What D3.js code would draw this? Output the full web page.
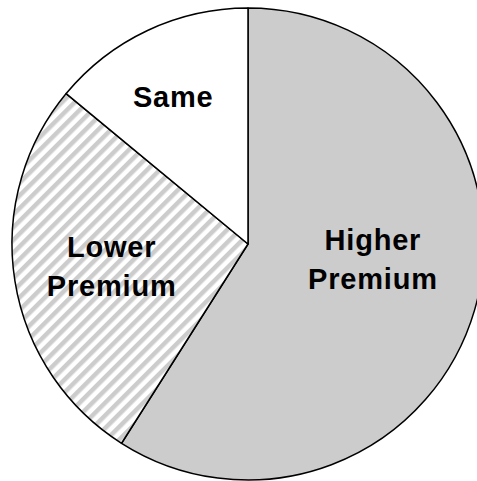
<!DOCTYPE html>
<html>
<head>
<meta charset="utf-8">
<script src="https://cdn.jsdelivr.net/npm/d3@7"></script>
<style>
  html, body { margin: 0; padding: 0; background: #fff; }
  svg { display: block; }
</style>
</head>
<body>
<script>
const categories = ["Higher Premium", "Lower Premium", "Same"];
const values = [59, 27, 14];
const labelLines = [["Higher", "Premium"], ["Lower", "Premium"], ["Same"]];

const W = 477, H = 481;
const cx = 248, cy = 244, R = 236;

const svg = d3.select("body").append("svg").attr("width", W).attr("height", H);

const defs = svg.append("defs");
const pat = defs.append("pattern")
  .attr("id", "stripes")
  .attr("patternUnits", "userSpaceOnUse")
  .attr("width", 9).attr("height", 9)
  .attr("patternTransform", "rotate(45)");
pat.append("rect").attr("width", 9).attr("height", 9).attr("fill", "#fff");
pat.append("rect").attr("width", 4.5).attr("height", 9).attr("fill", "#cccccc");

const fills = d3.scaleOrdinal().domain(categories)
  .range(["#cccccc", "url(#stripes)", "#ffffff"]);

const pie = d3.pie().sort(null).value(d => d.value).startAngle(0).endAngle(2 * Math.PI);
const data = categories.map((c, i) => ({ name: c, value: values[i], lines: labelLines[i] }));
const arcs = pie(data);

const arc = d3.arc().innerRadius(0).outerRadius(R);
const g = svg.append("g").attr("transform", `translate(${cx},${cy})`);

g.selectAll("path.slice").data(arcs).enter().append("path")
  .attr("class", "slice")
  .attr("d", arc)
  .attr("fill", d => fills(d.data.name))
  .attr("stroke", "#000")
  .attr("stroke-width", 1.5)
  .attr("stroke-linejoin", "round");

// label radii as fraction of R, and angular nudges (radians)
const labelR = d3.scaleOrdinal().domain(categories).range([0.533, 0.585, 0.70]);
const labelAngleShift = d3.scaleOrdinal().domain(categories).range([-0.164, 0, -0.03]);

const fs = 29, lh = 39;
arcs.forEach(d => {
  const a = (d.startAngle + d.endAngle) / 2 + labelAngleShift(d.data.name);
  const r = R * labelR(d.data.name);
  const x = Math.sin(a) * r, y = -Math.cos(a) * r;
  const n = d.data.lines.length;
  const t = g.append("text")
    .attr("text-anchor", "middle")
    .attr("font-family", "'Liberation Sans', Arial, sans-serif")
    .attr("font-weight", "bold")
    .attr("font-size", fs)
    .attr("letter-spacing", 0.8)
    .attr("fill", "#000");
  d.data.lines.forEach((ln, i) => {
    t.append("tspan")
      .attr("x", x)
      .attr("y", y + (i - (n - 1) / 2) * lh + fs * 0.36)
      .text(ln);
  });
});
</script>
</body>
</html>
